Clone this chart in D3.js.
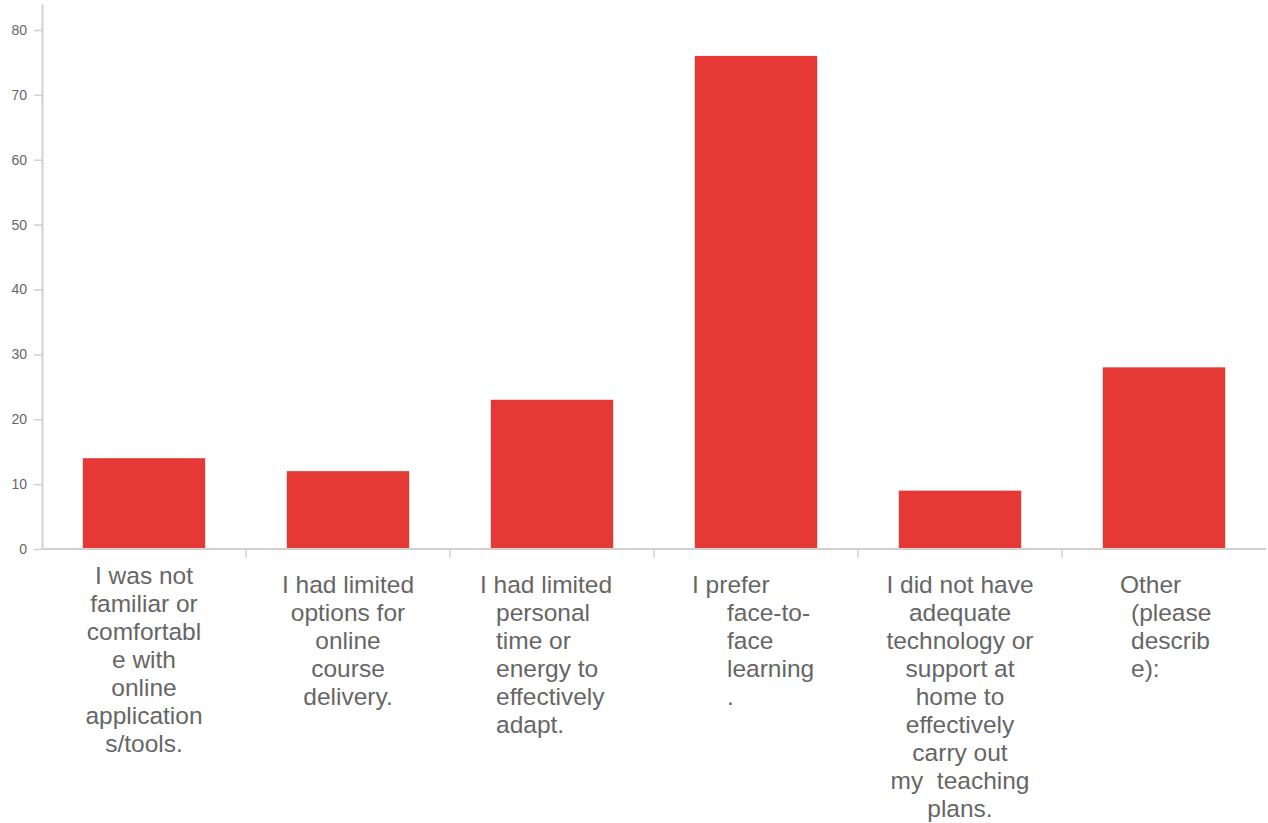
<!DOCTYPE html>
<html><head><meta charset="utf-8">
<script src="https://cdn.jsdelivr.net/npm/d3@7"></script>
<style>
html,body{margin:0;padding:0;background:#fff;}
svg{display:block;font-family:"Liberation Sans",Arial,sans-serif;}
</style></head>
<body>
<svg id="chart" width="1268" height="823"></svg>
<script>
const categories = [
  "I was not familiar or comfortable with online applications/tools.",
  "I had limited options for online course delivery.",
  "I had limited personal time or energy to effectively adapt.",
  "I prefer face-to-face learning.",
  "I did not have adequate technology or support at home to effectively carry out my teaching plans.",
  "Other (please describe):"
];
const values = [14, 12, 23, 76, 9, 28];
const yTicks = [0, 10, 20, 30, 40, 50, 60, 70, 80];
const labelLines = [
  ["I was not", "familiar or", "comfortabl", "e with", "online", "application", "s/tools."],
  ["I had limited", "options for", "online", "course", "delivery."],
  ["I had limited", "personal", "time or", "energy to", "effectively", "adapt."],
  ["I prefer", "face-to-", "face", "learning", "."],
  ["I did not have", "adequate", "technology or", "support at", "home to", "effectively", "carry out", "my  teaching", "plans."],
  ["Other", "(please", "describ", "e):"]
];

// layout / style (not data)
const labelStyle = [
  {top: 575, first: {anchor: "middle", dx: 0}, rest: {anchor: "middle", dx: 0}},
  {top: 584, first: {anchor: "middle", dx: 0}, rest: {anchor: "middle", dx: 0}},
  {top: 584, first: {anchor: "start", dx: -72}, rest: {anchor: "start", dx: -56}},
  {top: 584, first: {anchor: "start", dx: -64}, rest: {anchor: "start", dx: -29}},
  {top: 584, first: {anchor: "middle", dx: 0}, rest: {anchor: "middle", dx: 0}},
  {top: 584, first: {anchor: "start", dx: -44}, rest: {anchor: "start", dx: -33}}
];

const margin = {left: 42, right: 2, top: 4, bottom: 274};
const W = 1268, H = 823;
const svg = d3.select("#chart");

const x = d3.scaleBand().domain(categories).range([margin.left, W - margin.right]).paddingInner(0).paddingOuter(0);
const y = d3.scaleLinear().domain([0, 84]).range([H - margin.bottom, margin.top]);
const barPad = 0.2;

const axisColor = "#d0d0d0";
const textColor = "#666666";

// bars
svg.append("g").selectAll("rect").data(values).join("rect")
  .attr("x", (d, i) => x(categories[i]) + x.bandwidth() * barPad)
  .attr("width", x.bandwidth() * (1 - 2 * barPad))
  .attr("y", d => y(d))
  .attr("height", d => y(0) - y(d))
  .attr("fill", "#e53935");

// y axis
const yAxis = svg.append("g").attr("transform", `translate(${margin.left},0)`)
  .call(d3.axisLeft(y).tickValues(yTicks).tickSize(8).tickPadding(7).tickSizeOuter(0));
yAxis.select(".domain").attr("stroke", axisColor).attr("stroke-width", 2);
yAxis.selectAll(".tick line").attr("stroke", axisColor).attr("stroke-width", 1.5);
yAxis.selectAll(".tick text").attr("fill", textColor).attr("font-size", 14)
  .attr("font-family", "'Liberation Sans', Arial, sans-serif");

// x axis
const boundaries = categories.slice(1).map(c => x(c));
const xg = svg.append("g");
xg.append("line").attr("x1", margin.left).attr("x2", W - margin.right)
  .attr("y1", y(0)).attr("y2", y(0)).attr("stroke", axisColor).attr("stroke-width", 2);
xg.selectAll("line.tk").data(boundaries).join("line").attr("class", "tk")
  .attr("x1", d => d).attr("x2", d => d)
  .attr("y1", y(0) + 1).attr("y2", y(0) + 9)
  .attr("stroke", axisColor).attr("stroke-width", 1.5);

// category labels
const lg = svg.append("g").attr("font-size", 24.5).attr("fill", textColor);
labelLines.forEach((lines, i) => {
  const cx = x(categories[i]) + x.bandwidth() / 2;
  const st = labelStyle[i];
  lines.forEach((ln, j) => {
    const s = j === 0 ? st.first : st.rest;
    lg.append("text")
      .attr("x", cx + s.dx)
      .attr("y", st.top + j * 28.1)
      .attr("dy", "0.35em")
      .attr("text-anchor", s.anchor)
      .attr("xml:space", "preserve")
      .style("white-space", "pre")
      .text(ln);
  });
});
</script>
</body></html>
